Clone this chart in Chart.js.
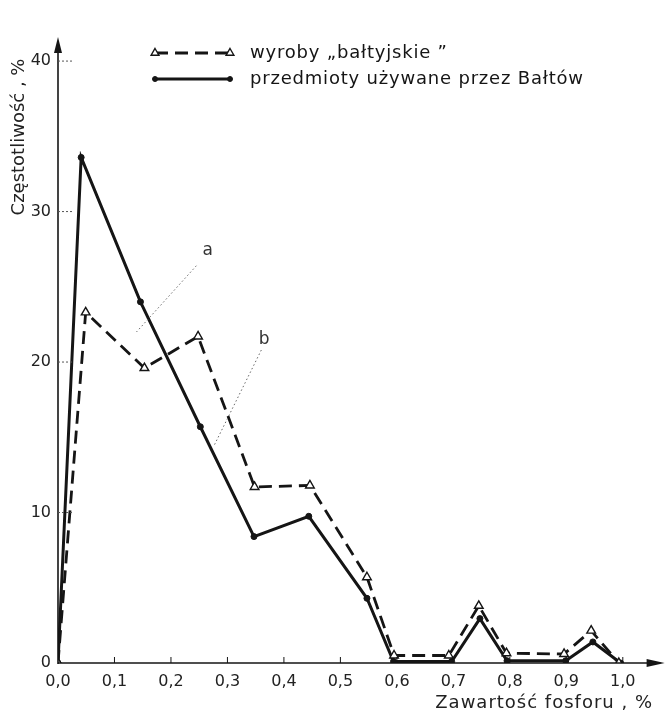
<!DOCTYPE html>
<html><head><meta charset="utf-8">
<script src="https://cdn.jsdelivr.net/npm/chart.js@4.4.1/dist/chart.umd.min.js"></script>
<style>html,body{margin:0;padding:0;background:#fff}#wrap{width:671px;height:714px}</style>
</head><body><div id="wrap"><canvas id="c" width="671" height="714"></canvas></div>
<script>
const seriesNames = ['wyroby „bałtyjskie ”', 'przedmioty używane przez Bałtów'];
const balticX = [0, 0.049, 0.153, 0.248, 0.348, 0.446, 0.547, 0.595, 0.692, 0.745, 0.794, 0.896, 0.944, 0.993];
const balticY = [0, 23.3, 19.6, 21.7, 11.7, 11.8, 5.7, 0.5, 0.5, 3.8, 0.65, 0.6, 2.15, 0];
const usedX = [0, 0.041, 0.146, 0.252, 0.347, 0.444, 0.547, 0.594, 0.697, 0.747, 0.795, 0.899, 0.947, 0.996];
const usedY = [0, 33.6, 24.0, 15.7, 8.4, 9.75, 4.3, 0.1, 0.1, 2.95, 0.15, 0.15, 1.4, 0];
const xTicks = [0, 0.1, 0.2, 0.3, 0.4, 0.5, 0.6, 0.7, 0.8, 0.9, 1.0];
const yTicks = [0, 10, 20, 30, 40];
const xTitle = 'Zawartość fosforu , %';
const yTitle = 'Częstotliwość , %';
const noteLabels = ['a', 'b'];
const noteX = [0.265, 0.365];
const noteY = [27.4, 21.5];
const leaderFromX = [0.245, 0.36];
const leaderFromY = [26.4, 20.8];
const leaderToX = [0.139, 0.277];
const leaderToY = [22.0, 14.5];

const FONT = '"DejaVu Sans", sans-serif';
const INK = '#151515';

const axesPlugin = {
  id: 'axesPlugin',
  afterDatasetsDraw(chart) {
    const ctx = chart.ctx, a = chart.chartArea;
    const xs = chart.scales.x, ys = chart.scales.y;
    const x0 = xs.getPixelForValue(0), y0 = ys.getPixelForValue(0);
    ctx.save();
    ctx.strokeStyle = INK; ctx.fillStyle = INK; ctx.lineWidth = 1.6;
    // y axis
    ctx.beginPath(); ctx.moveTo(x0, y0 + 1); ctx.lineTo(x0, a.top + 4); ctx.stroke();
    ctx.beginPath(); ctx.moveTo(x0, a.top); ctx.lineTo(x0 - 4, a.top + 16); ctx.lineTo(x0 + 4, a.top + 16); ctx.closePath(); ctx.fill();
    // x axis
    ctx.beginPath(); ctx.moveTo(x0, y0); ctx.lineTo(a.right - 4, y0); ctx.stroke();
    ctx.beginPath(); ctx.moveTo(a.right, y0); ctx.lineTo(a.right - 18, y0 - 4); ctx.lineTo(a.right - 18, y0 + 4); ctx.closePath(); ctx.fill();
    // x tick marks
    ctx.lineWidth = 1;
    xTicks.forEach(v => { if (v === 0) return; const px = xs.getPixelForValue(v);
      ctx.beginPath(); ctx.moveTo(px, y0); ctx.lineTo(px, y0 - 6); ctx.stroke(); });
    // y tick marks
    ctx.setLineDash([2, 2]); ctx.strokeStyle = '#555';
    yTicks.forEach(v => { if (v === 0) return; const py = ys.getPixelForValue(v);
      ctx.beginPath(); ctx.moveTo(x0, py); ctx.lineTo(x0 + 14, py); ctx.stroke(); });
    // annotations
    ctx.setLineDash([1.5, 2.5]); ctx.strokeStyle = '#666'; ctx.lineWidth = 1;
    ctx.font = '17px ' + FONT; ctx.textAlign = 'center'; ctx.textBaseline = 'middle'; ctx.fillStyle = '#333';
    noteLabels.forEach((t, i) => {
      ctx.beginPath();
      ctx.moveTo(xs.getPixelForValue(leaderFromX[i]), ys.getPixelForValue(leaderFromY[i]));
      ctx.lineTo(xs.getPixelForValue(leaderToX[i]), ys.getPixelForValue(leaderToY[i]));
      ctx.stroke();
      ctx.fillText(t, xs.getPixelForValue(noteX[i]), ys.getPixelForValue(noteY[i]));
    });
    ctx.setLineDash([]);
    // axis titles
    ctx.fillStyle = '#222'; ctx.font = '18px ' + FONT; ctx.textBaseline = 'middle';
    ctx.save();
    ctx.translate(19, 137); ctx.rotate(-Math.PI / 2); ctx.textAlign = 'center';
    ctx.fillText(yTitle, 0, 0);
    ctx.restore();
    ctx.save();
    try { ctx.letterSpacing = '1px'; } catch (e) {}
    ctx.textAlign = 'right';
    ctx.fillText(xTitle, 653, 703);
    ctx.restore();
    // legend
    const lx1 = 155, lx2 = 230, ly = [53, 79];
    chart.data.datasets.forEach((ds, i) => {
      ctx.strokeStyle = INK; ctx.lineWidth = ds.borderWidth; ctx.setLineDash(ds.borderDash || []);
      ctx.beginPath(); ctx.moveTo(lx1, ly[i]); ctx.lineTo(lx2, ly[i]); ctx.stroke();
      ctx.setLineDash([]);
      [lx1, lx2].forEach(px => {
        ctx.fillStyle = ds.pointBackgroundColor; ctx.strokeStyle = INK; ctx.lineWidth = ds.pointBorderWidth;
        Chart.helpers.drawPoint(ctx, { pointStyle: ds.pointStyle, radius: ds.pointRadius - 0.5, borderWidth: ds.pointBorderWidth, rotation: 0 }, px, ly[i]);
      });
      ctx.save();
      try { ctx.letterSpacing = '0.8px'; } catch (e) {}
      ctx.fillStyle = INK; ctx.font = '18px ' + FONT; ctx.textAlign = 'left'; ctx.textBaseline = 'middle';
      ctx.fillText(ds.label, 250, ly[i]);
      ctx.restore();
    });
    ctx.restore();
  }
};

new Chart(document.getElementById('c'), {
  type: 'line',
  data: {
    datasets: [
      { label: seriesNames[0], data: balticX.map((x, i) => ({ x, y: balticY[i] })),
        borderColor: INK, borderWidth: 2.8, borderDash: [13, 7], pointStyle: 'triangle',
        pointRadius: 5, pointBackgroundColor: '#fff', pointBorderColor: INK, pointBorderWidth: 1.4, tension: 0 },
      { label: seriesNames[1], data: usedX.map((x, i) => ({ x, y: usedY[i] })),
        borderColor: INK, borderWidth: 3, pointStyle: 'circle',
        pointRadius: 3, pointBackgroundColor: INK, pointBorderColor: INK, pointBorderWidth: 1, tension: 0 }
    ]
  },
  options: {
    responsive: false, animation: false,
    layout: { padding: { top: 37, right: 4, left: 0, bottom: 0 } },
    plugins: { legend: { display: false }, tooltip: { enabled: false } },
    scales: {
      x: { type: 'linear', min: 0, max: 1.074,
        afterBuildTicks: s => { s.ticks = xTicks.map(v => ({ value: v })); },
        afterFit: s => { s.height = 51; },
        grid: { display: false, drawTicks: false }, border: { display: false },
        ticks: { padding: 9, color: '#222', font: { family: FONT, size: 16 }, maxRotation: 0, autoSkip: false,
          callback: v => v.toFixed(1).replace('.', ',') } },
      y: { type: 'linear', min: 0, max: 41.6,
        afterBuildTicks: s => { s.ticks = yTicks.map(v => ({ value: v })); },
        afterFit: s => { s.width = 58; },
        grid: { display: false, drawTicks: false }, border: { display: false },
        ticks: { padding: 7, color: '#222', font: { family: FONT, size: 16 }, callback: v => String(v) } }
    }
  },
  plugins: [axesPlugin]
});
</script></body></html>
